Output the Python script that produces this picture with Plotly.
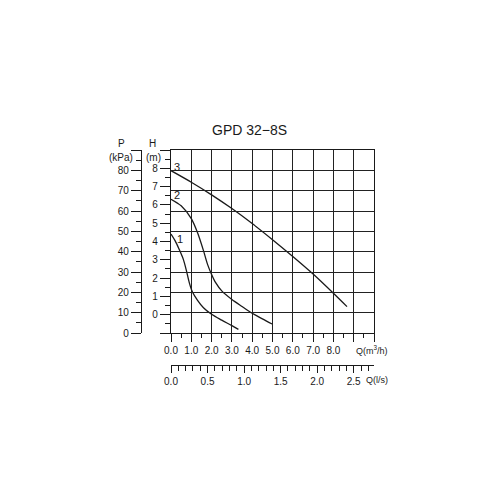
import plotly.graph_objects as go

# ---- data (Q in m3/h, H in m) ----
q1 = [0.0, 0.2, 0.4, 0.6, 0.75, 0.9, 1.05, 1.3, 1.6, 2.0, 2.5, 3.0, 3.32]
h1 = [4.41, 4.05, 3.58, 3.05, 2.45, 1.75, 1.25, 0.80, 0.38, 0.02, -0.30, -0.60, -0.80]

q2 = [0.0, 0.5, 1.0, 1.3, 1.6, 1.8, 2.0, 2.2, 2.5, 3.0, 3.5, 4.0, 4.5, 4.98]
h2 = [6.31, 5.95, 5.25, 4.50, 3.50, 2.75, 2.20, 1.75, 1.30, 0.83, 0.45, 0.08, -0.23, -0.51]

q3 = [0.0, 1.0, 2.0, 3.0, 4.0, 5.0, 6.0, 7.0, 8.0, 8.67]
h3 = [7.87, 7.24, 6.55, 5.80, 4.98, 4.10, 3.18, 2.22, 1.17, 0.44]

curve_names = ["1", "2", "3"]

q_ticks = [0, 1, 2, 3, 4, 5, 6, 7, 8, 9, 10]
q_labels = ["0.0", "1.0", "2.0", "3.0", "4.0", "5.0", "6.0", "7.0", "8.0", "", ""]
ls_ticks = [0, 0.5, 1.0, 1.5, 2.0, 2.5]
ls_labels = ["0.0", "0.5", "1.0", "1.5", "2.0", "2.5"]
p_ticks = [0, 10, 20, 30, 40, 50, 60, 70, 80, 90]
p_labels = ["0", "10", "20", "30", "40", "50", "60", "70", "80", ""]
h_ticks = [-1, 0, 1, 2, 3, 4, 5, 6, 7, 8, 9]
h_labels = ["", "0", "1", "2", "3", "4", "5", "6", "7", "8", ""]

FONT = "Liberation Sans, Arial, sans-serif"
INK = "#1a1a1a"
OFF = 8  # default body margin of the html page

fig = go.Figure()
for q, h, name in zip([q1, q2, q3], [h1, h2, h3], curve_names):
    fig.add_trace(go.Scatter(x=q, y=h, xaxis="x", yaxis="y2", mode="lines",
                             line=dict(color=INK, width=1.3, shape="spline", smoothing=0.8),
                             name=name, showlegend=False, hoverinfo="skip"))
    fig.add_annotation(x=q[0], y=h[0], xref="x", yref="y2", text=name,
                       showarrow=False, xanchor="left",
                       xshift=(4 if name == "1" else 1), yshift=(-5 if name == "1" else 4),
                       font=dict(family=FONT, size=11, color=INK))

# helper traces so that every axis is drawn
fig.add_trace(go.Scatter(x=[None], y=[None], xaxis="x", yaxis="y3", showlegend=False, hoverinfo="skip"))
fig.add_trace(go.Scatter(x=[None], y=[None], xaxis="x2", yaxis="y", showlegend=False, hoverinfo="skip"))

xdom = [(171 - 100) / 300, (374 - 100) / 300]
ydom = [(400 - 333) / 300, (400 - 150) / 300]
tickfont = dict(family=FONT, size=10, color=INK)

fig.update_layout(
    width=500, height=500,
    margin=dict(l=100 - OFF, r=100 + OFF, t=100 - OFF, b=100 + OFF),
    paper_bgcolor="white", plot_bgcolor="rgba(0,0,0,0)",
    xaxis=dict(domain=xdom, range=[0, 10], showgrid=True, gridcolor="#222", gridwidth=1.3,
               zeroline=False, showline=True, linecolor=INK, linewidth=1.3, mirror=True,
               tickmode="array", tickvals=q_ticks, ticktext=q_labels,
               ticks="outside", ticklen=8, tickwidth=1.2, tickcolor=INK,
               minor=dict(dtick=0.5, ticklen=4, tickwidth=1.2, tickcolor=INK, showgrid=False, ticks="outside"),
               tickfont=tickfont, fixedrange=True),
    xaxis2=dict(overlaying="x", anchor="free", position=(400 - 365) / 300, side="bottom",
                range=[0, 10 / 3.6], showgrid=False, zeroline=False,
                showline=True, linecolor=INK, linewidth=1.3,
                tickmode="array", tickvals=ls_ticks, ticktext=ls_labels,
                ticks="outside", ticklen=7, tickwidth=1.2, tickcolor=INK,
                minor=dict(dtick=0.1, ticklen=5, tickwidth=1.2, tickcolor=INK, showgrid=False, ticks="outside"),
                tickfont=tickfont, fixedrange=True),
    yaxis=dict(domain=ydom, range=[0, 90], showgrid=True, gridcolor="#222", gridwidth=1.3,
               dtick=10, zeroline=False, showline=True, linecolor=INK, linewidth=1.3, mirror=True,
               showticklabels=False, ticks="", fixedrange=True),
    yaxis2=dict(overlaying="y", anchor="x", side="left", range=[-1, 9], showgrid=False, zeroline=False,
                showline=True, linecolor=INK, linewidth=1.3,
                tickmode="array", tickvals=h_ticks, ticktext=h_labels,
                ticks="outside", ticklen=10, tickwidth=1.2, tickcolor=INK,
                minor=dict(dtick=0.5, ticklen=5, tickwidth=1.2, tickcolor=INK, showgrid=False, ticks="outside"),
                tickfont=tickfont, fixedrange=True),
    yaxis3=dict(overlaying="y", anchor="free", position=(141 - 100) / 300, side="left",
                range=[0, 90], showgrid=False, zeroline=False,
                showline=True, linecolor=INK, linewidth=1.3,
                tickmode="array", tickvals=p_ticks, ticktext=p_labels,
                ticks="outside", ticklen=10, tickwidth=1.2, tickcolor=INK,
                minor=dict(dtick=5, ticklen=5, tickwidth=1.2, tickcolor=INK, showgrid=False, ticks="outside"),
                tickfont=tickfont, fixedrange=True),
)

def px_x(p):
    return (p - 100) / 300

def px_y(p):
    return (400 - p) / 300

texts = [
    ("GPD 32\u22128S", 249, 130, 14),
    ("P", 121, 143, 10),
    ("(kPa)", 121, 157, 10),
    ("H", 152, 143, 10),
    ("(m)", 153, 157, 10),
    ("Q(m<sup>3</sup>/h)", 372, 350, 9),
    ("Q(l/s)", 377, 380, 9),
]
for t, x, y, s in texts:
    fig.add_annotation(x=px_x(x), y=px_y(y), xref="paper", yref="paper", text=t,
                       showarrow=False, xanchor="center", yanchor="middle",
                       font=dict(family=FONT, size=s, color=INK))

fig.write_html("out.html")
